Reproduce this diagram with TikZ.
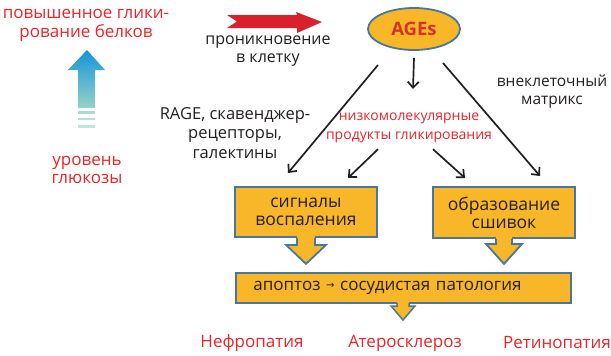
\documentclass[tikz,border=0pt]{standalone}
\usepackage{fontspec}
\setmainfont{Open Sans}
\newfontfamily\symfont{DejaVu Sans}
\usetikzlibrary{arrows.meta,calc,shapes.geometric}
\definecolor{boxfill}{RGB}{248,183,40}
\definecolor{boxline}{RGB}{72,118,158}
\definecolor{redtxt}{RGB}{232,37,42}
\definecolor{agestxt}{RGB}{214,52,40}
\definecolor{redarrow}{RGB}{216,33,45}
\definecolor{blacktxt}{RGB}{35,31,32}
\definecolor{bluetop}{RGB}{20,150,215}
\definecolor{bluebot}{RGB}{150,210,200}
\tikzset{
  txt/.style={text=blacktxt, font=\fontsize{16}{19}\selectfont, align=center, inner sep=0pt},
  redlabel/.style={text=redtxt, font=\fontsize{17}{19}\selectfont, align=center, inner sep=0pt},
  ybox/.style={fill=boxfill, draw=boxline, line width=1.8pt, rectangle, inner sep=0pt,
     text=blacktxt, font=\fontsize{17.5}{18}\selectfont, align=center},
  conn/.style={draw=blacktxt, line width=1.7pt, -{Straight Barb[length=6pt,width=11pt,line width=1.7pt]}},
  boxarrow/.style={fill=boxfill, draw=boxline, line width=1.8pt, line join=miter}
}
\begin{document}
\begin{tikzpicture}[x=1pt,y=-1pt]
\useasboundingbox[fill=white] (0,0) rectangle (611,356);

% left side
\node[redlabel] (glyc) at (86,25) {повышенное глики-\\рование белков};
\node[redlabel, font=\fontsize{17}{18}\selectfont] (gluc) at (87,170) {уровень\\глюкозы};
% blue gradient arrow
\shade[top color=bluetop, bottom color=bluebot]
  (87,50) -- (105,70) -- (95,70) -- (95,108) -- (78,108) -- (78,70) -- (68,70) -- cycle;
\fill[bluebot!80] (78,111) rectangle (95,113.5);
\fill[bluebot!70] (78,117.5) rectangle (95,120);
\fill[bluebot!60] (78,125) rectangle (95,127.5);

% red arrow
\fill[redarrow] (227,15) -- (297,15) -- (296,12) -- (322,22) -- (297,33) -- (297,28)
  -- (227,28) -- (237,21.5) -- cycle;
\node[txt, font=\fontsize{16}{18}\selectfont] (pen) at (268,51) {проникновение\\в клетку};

% AGEs
\node[ellipse, fill=boxfill, draw=boxline, line width=1.8pt, minimum width=92pt, minimum height=42pt,
  inner sep=0pt, text=agestxt, font=\fontsize{18.5}{18.5}\selectfont\bfseries] (ages) at (414,29) {AGEs};

\node[txt, font=\fontsize{16.5}{19.5}\selectfont] (rage) at (235,133) {RAGE, скавенджер-\\рецепторы,\\галектины};
\node[txt, font=\fontsize{15.5}{18}\selectfont] (ecm) at (552,92) {внеклеточный\\матрикс};
\node[redlabel, font=\fontsize{14}{19}\selectfont] (lmw) at (409,128) {низкомолекулярные\\продукты гликирования};

% boxes
\node[ybox, minimum width=142pt, minimum height=50pt] (infl) at (306,212) {сигналы\\воспаления};
\node[ybox, minimum width=142pt, minimum height=51pt] (cross) at (504,212.5) {образование\\сшивок};
\node[ybox, minimum width=335pt, minimum height=30pt, anchor=west, text width=330pt, align=left,
  font=\fontsize{17}{18}\selectfont] (apo) at (235,288)
  {\hspace*{15pt}апоптоз \raisebox{2pt}{\symfont\fontsize{10}{10}\selectfont→} сосудистая патология};

% box arrows
\fill[boxfill] ($(infl.south)+(-9,-2)$) rectangle ($(infl.south)+(9,7)$);
\draw[boxarrow] ($(infl.south)+(-9,0)$) -- ++(0,7) -- ++(-11,0) -- ($(infl.south)+(0,26)$)
  -- ($(infl.south)+(20,7)$) -- ++(-11,0) -- ++(0,-7);
\fill[boxfill] ($(cross.south)+(-8,-2)$) rectangle ($(cross.south)+(8,5)$);
\draw[boxarrow] ($(cross.south)+(-8,0)$) -- ++(0,5) -- ++(-10,0) -- ($(cross.south)+(0,25)$)
  -- ($(cross.south)+(18,5)$) -- ++(-10,0) -- ++(0,-5);
\coordinate (apob) at (403,303);
\fill[boxfill] ($(apob)+(-6,-2)$) rectangle ($(apob)+(6,3)$);
\draw[boxarrow, line width=1.5pt] ($(apob)+(-6,0)$) -- ++(0,3) -- ++(-6,0) -- ($(apob)+(0,17)$)
  -- ($(apob)+(12,3)$) -- ++(-6,0) -- ++(0,-3);

% connectors
\coordinate (c1) at (288,173);
\coordinate (c2) at (413,89);
\coordinate (c3) at (540,176);
\coordinate (c4) at (348,178);
\coordinate (c5) at (465,178);
\draw[conn] ($(ages.center)+(-36,36)$) -- (c1);
\draw[conn] (ages.south) ++(0,7) -- (c2);
\draw[conn] ($(ages.center)+(29,34)$) -- (c3);
\draw[conn] ($(lmw.south)+(-31,6)$) -- (c4);
\draw[conn] ($(lmw.south)+(24,6)$) -- (c5);

% outcomes
\node[redlabel] (neph) at (252,343) {Нефропатия};
\node[redlabel] (ath) at (405,343) {Атеросклероз};
\node[redlabel] (ret) at (557,343) {Ретинопатия};
\end{tikzpicture}
\end{document}
